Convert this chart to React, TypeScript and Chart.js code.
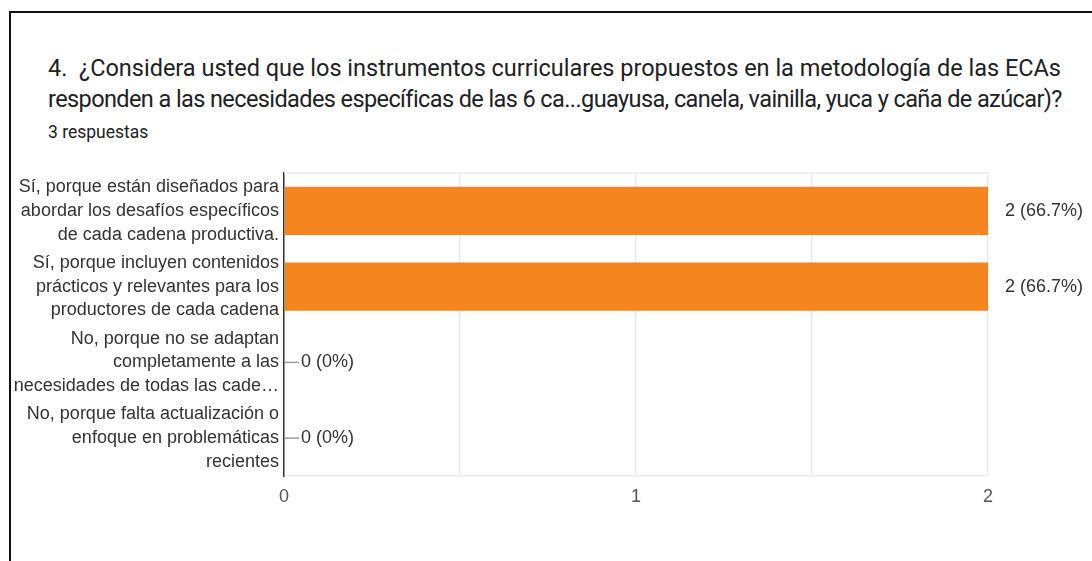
import React, { useEffect, useLayoutEffect, useRef } from "react";
import { Chart, registerables } from "chart.js";

Chart.register(...registerables);

const titleLine1 = "4.  ¿Considera usted que los instrumentos curriculares propuestos en la metodología de las ECAs";
const titleLine2 = "responden a las necesidades específicas de las 6 ca...guayusa, canela, vainilla, yuca y caña de azúcar)?";
const subtitle = "3 respuestas";

const categories: string[][] = [
  ["Sí, porque están diseñados para", "abordar los desafíos específicos", "de cada cadena productiva."],
  ["Sí, porque incluyen contenidos", "prácticos y relevantes para los", "productores de cada cadena"],
  ["No, porque no se adaptan", "completamente a las", "necesidades de todas las cade…"],
  ["No, porque falta actualización o", "enfoque en problemáticas", "recientes"],
];
const counts = [2, 2, 0, 0];
const percentLabels = ["66.7%", "66.7%", "0%", "0%"];
const xTickValues = [0, 1, 2];

const LABEL_FONT = "'Liberation Sans', Arial, sans-serif";
const TITLE_WIDTH = 1013;

const barLabelPlugin = {
  id: "barLabels",
  afterDatasetsDraw(chart: any) {
    const ctx = chart.ctx;
    const meta = chart.getDatasetMeta(0);
    ctx.save();
    meta.data.forEach((el: any, i: number) => {
      const x = el.x;
      const y = el.y;
      if (counts[i] === 0) {
        ctx.strokeStyle = "#9e9e9e";
        ctx.lineWidth = 1.5;
        ctx.beginPath();
        ctx.moveTo(x + 1, y);
        ctx.lineTo(x + 15, y);
        ctx.stroke();
      }
      ctx.fillStyle = "#333333";
      ctx.font = `18px ${LABEL_FONT}`;
      ctx.textAlign = "left";
      ctx.textBaseline = "middle";
      ctx.fillText(`${counts[i]} (${percentLabels[i]})`, x + 17, y);
    });
    ctx.restore();
  },
};

const topLinePlugin = {
  id: "topLine",
  beforeDatasetsDraw(chart: any) {
    const { ctx, chartArea } = chart;
    ctx.save();
    ctx.strokeStyle = "#ebebeb";
    ctx.lineWidth = 1.5;
    ctx.beginPath();
    ctx.moveTo(chartArea.left, chartArea.top);
    ctx.lineTo(chartArea.right, chartArea.top);
    ctx.stroke();
    ctx.restore();
  },
};

function BarChart() {
  const ref = useRef<HTMLCanvasElement | null>(null);
  useEffect(() => {
    if (!ref.current) return;
    const chart = new Chart(ref.current, {
      type: "bar",
      data: {
        labels: categories,
        datasets: [
          {
            data: counts,
            backgroundColor: "#f5861f",
            borderWidth: 0,
            barPercentage: 0.635,
            categoryPercentage: 1,
          },
        ],
      },
      options: {
        indexAxis: "y",
        animation: false,
        responsive: true,
        maintainAspectRatio: false,
        layout: { padding: { top: 13, right: 104, left: 0, bottom: 0 } },
        plugins: { legend: { display: false }, tooltip: { enabled: false } },
        scales: {
          x: {
            min: 0,
            max: 2,
            ticks: {
              stepSize: 0.5,
              padding: 10,
              color: "#555555",
              font: { family: LABEL_FONT, size: 18 },
              callback: (v: any) => (xTickValues.includes(Number(v)) ? String(v) : ""),
            },
            grid: { color: "#ebebeb", lineWidth: 1.5, drawTicks: false },
            border: { display: true, color: "#ebebeb", width: 1.5 },
            afterFit: (scale: any) => {
              scale.height = 85;
              scale.paddingLeft = 0;
              scale.paddingRight = 0;
            },
          },
          y: {
            ticks: {
              padding: 5,
              color: "#333333",
              font: { family: LABEL_FONT, size: 18, lineHeight: 1.32 },
              autoSkip: false,
            },
            grid: { display: false, drawTicks: false },
            border: { display: true, color: "#333333", width: 1.5 },
            afterFit: (scale: any) => {
              scale.width = 284;
              scale.paddingTop = 0;
              scale.paddingBottom = 0;
            },
          },
        },
      },
      plugins: [barLabelPlugin, topLinePlugin],
    });
    return () => chart.destroy();
  }, []);
  return <canvas ref={ref} />;
}

function FitLine({ text }: { text: string }) {
  const ref = useRef<HTMLSpanElement | null>(null);
  useLayoutEffect(() => {
    const el = ref.current;
    if (!el) return;
    el.style.letterSpacing = "0px";
    const w = el.getBoundingClientRect().width;
    const n = Array.from(text).length;
    if (n > 1) el.style.letterSpacing = `${(TITLE_WIDTH - w) / n}px`;
  }, [text]);
  return (
    <div>
      <span ref={ref} style={{ display: "inline-block", whiteSpace: "pre" }}>
        {text}
      </span>
    </div>
  );
}

export default function App() {
  return (
    <div style={{ position: "fixed", left: 0, top: 0, width: 1092, height: 561, background: "#fff", overflow: "hidden" }}>
      <div
        style={{
          position: "absolute",
          left: 9,
          top: 11,
          right: -10,
          bottom: -10,
          borderLeft: "2px solid #111",
          borderTop: "2px solid #111",
        }}
      />
      <div
        style={{
          position: "absolute",
          left: 48,
          top: 53,
          width: 1044,
          fontFamily: "Roboto, sans-serif",
          fontSize: 23.5,
          lineHeight: "31px",
          color: "#202124",
          whiteSpace: "pre",
        }}
      >
        <FitLine text={titleLine1} />
        <FitLine text={titleLine2} />
      </div>
      <div
        style={{
          position: "absolute",
          left: 48,
          top: 121,
          fontFamily: "Roboto, sans-serif",
          fontSize: 17.5,
          lineHeight: "22px",
          color: "#202124",
          whiteSpace: "pre",
        }}
      >
        {subtitle}
      </div>
      <div style={{ position: "absolute", left: 0, top: 160, width: 1092, height: 401 }}>
        <BarChart />
      </div>
    </div>
  );
}
